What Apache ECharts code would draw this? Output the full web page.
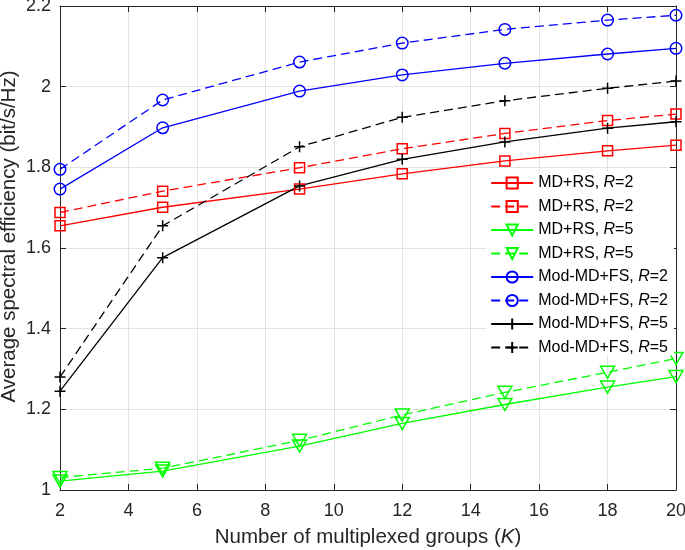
<!DOCTYPE html>
<html><head><meta charset="utf-8">
<script src="https://cdn.jsdelivr.net/npm/echarts@6/dist/echarts.min.js"></script>
<style>html,body{margin:0;padding:0;background:#fff}#c{width:685px;height:550px}</style>
</head><body><div id="c"></div>
<script>
const K = [2, 5, 9, 12, 15, 18, 20];
const mdrsR2 = [1.655, 1.701, 1.746, 1.784, 1.816, 1.841, 1.855];
const mdrsR2d = [1.688, 1.741, 1.799, 1.846, 1.884, 1.916, 1.932];
const mdrsR5 = [1.022, 1.047, 1.109, 1.165, 1.212, 1.255, 1.281];
const mdrsR5d = [1.031, 1.054, 1.123, 1.186, 1.242, 1.292, 1.326];
const modR2 = [1.746, 1.898, 1.989, 2.029, 2.058, 2.081, 2.095];
const modR2d = [1.795, 1.967, 2.061, 2.108, 2.142, 2.165, 2.177];
const modR5 = [1.245, 1.576, 1.754, 1.820, 1.863, 1.897, 1.913];
const modR5d = [1.280, 1.655, 1.851, 1.924, 1.965, 1.996, 2.014];
const xTicks = [2, 4, 6, 8, 10, 12, 14, 16, 18, 20];
const yTicks = [1, 1.2, 1.4, 1.6, 1.8, 2, 2.2];
const yTitle = 'Average spectral efficiency (bit/s/Hz)';

const FONT = "'Liberation Sans', Arial, Helvetica, sans-serif";
const AX = '#262626';
const GRID = '#e3e3e3';
const SQ = 'rect';
const CIRC = 'circle';
const TRI = 'path://M0,0 L12,0 L6,10.4 Z';
const PLUS = 'path://M0,6 L12,6 M6,0 L6,12';
const DASH = [9, 5];

function mk(name, label, R, data, color, dashed, symbol, size) {
  return {
    name: name, type: 'line',
    data: K.map((k, i) => [k, data[i]]),
    symbol: symbol, symbolSize: size, symbolKeepAspect: true,
    showSymbol: true,
    lineStyle: { color: color, width: 1.3, type: dashed ? DASH : 'solid' },
    itemStyle: { color: 'rgba(255,255,255,0)', borderColor: color, borderWidth: 1.5 },
    emphasis: { disabled: true },
    animation: false,
    _label: label, _R: R
  };
}
const series = [
  mk('a', 'MD+RS, ', '2', mdrsR2, '#ff0000', false, SQ, 10),
  mk('b', 'MD+RS, ', '2', mdrsR2d, '#ff0000', true, SQ, 10),
  mk('c', 'MD+RS, ', '5', mdrsR5, '#00ff00', false, TRI, 14),
  mk('d', 'MD+RS, ', '5', mdrsR5d, '#00ff00', true, TRI, 14),
  mk('e', 'Mod-MD+FS, ', '2', modR2, '#0000ff', false, CIRC, 11.5),
  mk('f', 'Mod-MD+FS, ', '2', modR2d, '#0000ff', true, CIRC, 11.5),
  mk('g', 'Mod-MD+FS, ', '5', modR5, '#000000', false, PLUS, 11),
  mk('h', 'Mod-MD+FS, ', '5', modR5d, '#000000', true, PLUS, 11)
];
const labelMap = {};
series.forEach(s => { labelMap[s.name] = '{n|' + s._label + '}{i|R}{n|=' + s._R + '}'; });

const fmt = v => String(+v.toFixed(1));
const chart = echarts.init(document.getElementById('c'), null, { renderer: 'canvas' });
chart.setOption({
  animation: false,
  backgroundColor: '#fff',
  textStyle: { fontFamily: FONT },
  grid: { left: 60, right: 9, top: 6, bottom: 60, show: false, containLabel: false, outerBoundsMode: 'none' },
  graphic: [{
    type: 'text', x: 9.5, y: 236.5, rotation: Math.PI / 2, silent: true,
    style: { text: yTitle, fontSize: 20.5, fontFamily: FONT, fill: AX, textAlign: 'center', textVerticalAlign: 'middle' }
  }],
  legend: {
    orient: 'vertical', right: 11, top: 172,
    itemWidth: 42, itemHeight: 14, itemGap: 7.5,
    backgroundColor: '#fff', padding: [3, 6, 0, 4],
    selectedMode: false,
    data: series.map(s => s.name),
    formatter: n => labelMap[n],
    textStyle: {
      color: '#000', fontFamily: FONT, fontSize: 16,
      rich: {
        n: { fontSize: 16, fontFamily: FONT, color: '#000' },
        i: { fontSize: 16, fontFamily: FONT, fontStyle: 'italic', color: '#000' }
      }
    }
  },
  xAxis: [{
    type: 'value', min: 2, max: 20, interval: 2,
    name: '{n|Number of multiplexed groups (}{i|K}{n|)}',
    nameLocation: 'middle', nameGap: 37,
    nameTextStyle: { rich: { n: { fontSize: 20.5, fontFamily: FONT, color: AX }, i: { fontSize: 20.5, fontFamily: FONT, fontStyle: 'italic', color: AX } } },
    axisLine: { show: true, lineStyle: { color: AX, width: 1 } },
    axisTick: { show: true, inside: true, length: 6, lineStyle: { color: AX } },
    axisLabel: { fontSize: 18, color: AX, fontFamily: FONT, margin: 12, formatter: fmt },
    splitLine: { show: true, lineStyle: { color: GRID, width: 1 } }
  }, {
    type: 'value', min: 2, max: 20, interval: 2, position: 'top',
    axisLine: { show: true, onZero: false, lineStyle: { color: AX, width: 1 } },
    axisTick: { show: true, inside: true, length: 6, lineStyle: { color: AX } },
    axisLabel: { show: false }, splitLine: { show: false }
  }],
  yAxis: [{
    type: 'value', min: 1, max: 2.2, interval: 0.2,
    axisLine: { show: true, lineStyle: { color: AX, width: 1 } },
    axisTick: { show: true, inside: true, length: 6, lineStyle: { color: AX } },
    axisLabel: { fontSize: 18, color: AX, fontFamily: FONT, margin: 9, formatter: fmt },
    splitLine: { show: true, lineStyle: { color: GRID, width: 1 } }
  }, {
    type: 'value', min: 1, max: 2.2, interval: 0.2, position: 'right',
    axisLine: { show: true, onZero: false, lineStyle: { color: AX, width: 1 } },
    axisTick: { show: true, inside: true, length: 6, lineStyle: { color: AX } },
    axisLabel: { show: false }, splitLine: { show: false }
  }],
  series: series.map(s => { const o = Object.assign({}, s); delete o._label; delete o._R; return o; })
});
</script></body></html>
